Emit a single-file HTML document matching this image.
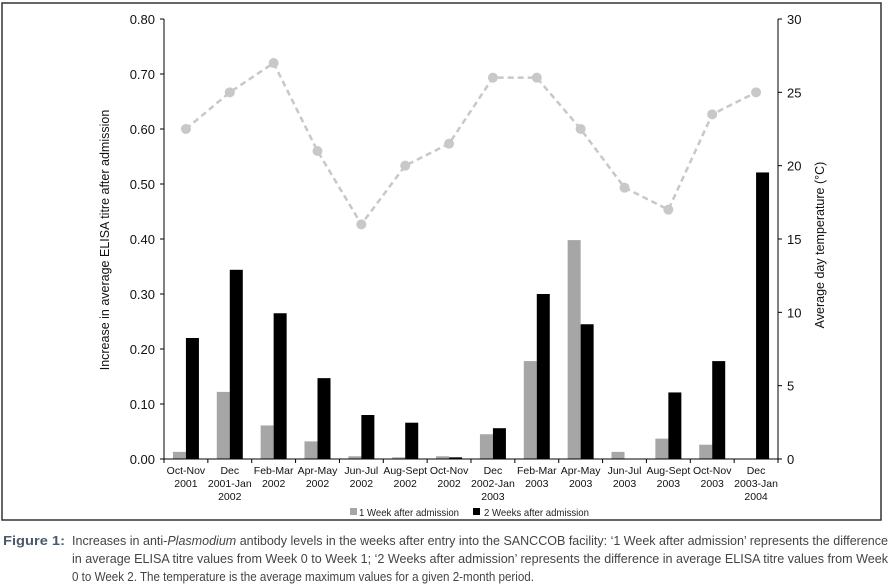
<!DOCTYPE html>
<html><head><meta charset="utf-8"><style>
html,body{margin:0;padding:0;background:#fff;}
svg{display:block;font-family:"Liberation Sans",sans-serif;}
</style></head><body>
<svg id="chart" width="893" height="586" viewBox="0 0 893 586">
<rect x="2" y="3" width="879" height="517" fill="none" stroke="#333" stroke-width="1.5"/>
<g id="g"></g>
<g>
 <rect x="350" y="508" width="7" height="7" fill="#a6a6a6"/>
 <text x="359" y="516" font-size="10.5" fill="#222" textLength="100" lengthAdjust="spacingAndGlyphs">1 Week after admission</text>
 <rect x="473" y="508" width="7" height="7" fill="#000"/>
 <text x="484" y="516" font-size="10.5" fill="#222" textLength="105" lengthAdjust="spacingAndGlyphs">2 Weeks after admission</text>
</g>
<g font-size="12.5" fill="#444">
 <text x="3" y="545" font-weight="bold" fill="#4a5a6a" textLength="62" lengthAdjust="spacingAndGlyphs">Figure 1:</text>
 <text x="72" y="545" textLength="816" lengthAdjust="spacingAndGlyphs">Increases in anti-<tspan font-style="italic">Plasmodium</tspan> antibody levels in the weeks after entry into the SANCCOB facility: ‘1 Week after admission’ represents the difference</text>
 <text x="72" y="563" textLength="816" lengthAdjust="spacingAndGlyphs">in average ELISA titre values from Week 0 to Week 1; ‘2 Weeks after admission’ represents the difference in average ELISA titre values from Week</text>
 <text x="72" y="581" textLength="462" lengthAdjust="spacingAndGlyphs">0 to Week 2. The temperature is the average maximum values for a given 2-month period.</text>
</g>
</svg>
<script>
const categories=[["Oct-Nov","2001"],["Dec","2001-Jan","2002"],["Feb-Mar","2002"],["Apr-May","2002"],["Jun-Jul","2002"],["Aug-Sept","2002"],["Oct-Nov","2002"],["Dec","2002-Jan","2003"],["Feb-Mar","2003"],["Apr-May","2003"],["Jun-Jul","2003"],["Aug-Sept","2003"],["Oct-Nov","2003"],["Dec","2003-Jan","2004"]];
const week1=[0.013,0.122,0.061,0.032,0.005,0.003,0.005,0.045,0.178,0.398,0.013,0.037,0.026,0];
const week2=[0.220,0.344,0.265,0.147,0.080,0.066,0.003,0.056,0.300,0.245,0,0.121,0.178,0.521];
const temperature=[22.5,25,27,21,16,20,21.5,26,26,22.5,18.5,17,23.5,25];
const leftTicks=["0.00","0.10","0.20","0.30","0.40","0.50","0.60","0.70","0.80"];
const rightTicks=["0","5","10","15","20","25","30"];

const NS="http://www.w3.org/2000/svg";
const g=document.getElementById('g');
const X0=164,X1=778,Y0=459,Y1=19;
const yL=v=>Y0-(v/0.8)*(Y0-Y1);
const yR=v=>Y0-(v/30)*(Y0-Y1);
const bw=(X1-X0)/categories.length;
const xc=i=>X0+bw*(i+0.5);
function mk(t,a,p){const e=document.createElementNS(NS,t);for(const k in a)e.setAttribute(k,a[k]);(p||g).appendChild(e);return e;}

week1.forEach((v,i)=>{const e=mk('rect',{x:xc(i)-13,y:yL(v),width:13,height:Y0-yL(v),fill:'#a6a6a6'});

});
week2.forEach((v,i)=>{const e=mk('rect',{x:xc(i),y:yL(v),width:13,height:Y0-yL(v),fill:'#000'});

});

const pts=temperature.map((v,i)=>xc(i)+','+yR(v)).join(' ');
const pl=mk('polyline',{points:pts,fill:'none',stroke:'#c8c8c8','stroke-width':2.5,'stroke-dasharray':'6,4'});


temperature.forEach((v,i)=>{const c=mk('circle',{cx:xc(i),cy:yR(v),r:5,fill:'#c8c8c8'});

});

const la=mk('line',{x1:X0,y1:Y1,x2:X0,y2:Y0,stroke:'#000','stroke-width':1});


const ra=mk('line',{x1:X1,y1:Y1,x2:X1,y2:Y0,stroke:'#000','stroke-width':1});


const xa=mk('line',{x1:X0-4,y1:Y0,x2:X1+4,y2:Y0,stroke:'#000','stroke-width':1});



leftTicks.forEach((t,i)=>{const y=yL(+t);
mk('line',{x1:X0-4,y1:y,x2:X0,y2:y,stroke:'#000'});
const e=mk('text',{x:X0-9,y:y+5,'font-size':13,'text-anchor':'end',fill:'#111'});e.textContent=t;

});
rightTicks.forEach(t=>{const y=yR(+t);
mk('line',{x1:X1,y1:y,x2:X1+4,y2:y,stroke:'#000'});
const e=mk('text',{x:X1+9,y:y+5,'font-size':13,fill:'#111'});e.textContent=t;

});

for(let i=0;i<=categories.length;i++){const x=X0+bw*i;mk('line',{x1:x,y1:Y0,x2:x,y2:Y0+4,stroke:'#000'});}
categories.forEach((c,i)=>{c.forEach((s,j)=>{const e=mk('text',{x:xc(i),y:Y0+15+j*13,'font-size':10.5,'text-anchor':'middle',fill:'#111'});
e.textContent=s;

});});

const lt=mk('text',{x:0,y:0,'font-size':12.5,'text-anchor':'middle',fill:'#111',transform:'translate(109,240) rotate(-90)'});
lt.textContent='Increase in average ELISA titre after admission';


const rt=mk('text',{x:0,y:0,'font-size':12.5,'text-anchor':'middle',fill:'#111',transform:'translate(824,245) rotate(-90)'});
rt.textContent='Average day temperature (°C)';


</script>
</body></html>
